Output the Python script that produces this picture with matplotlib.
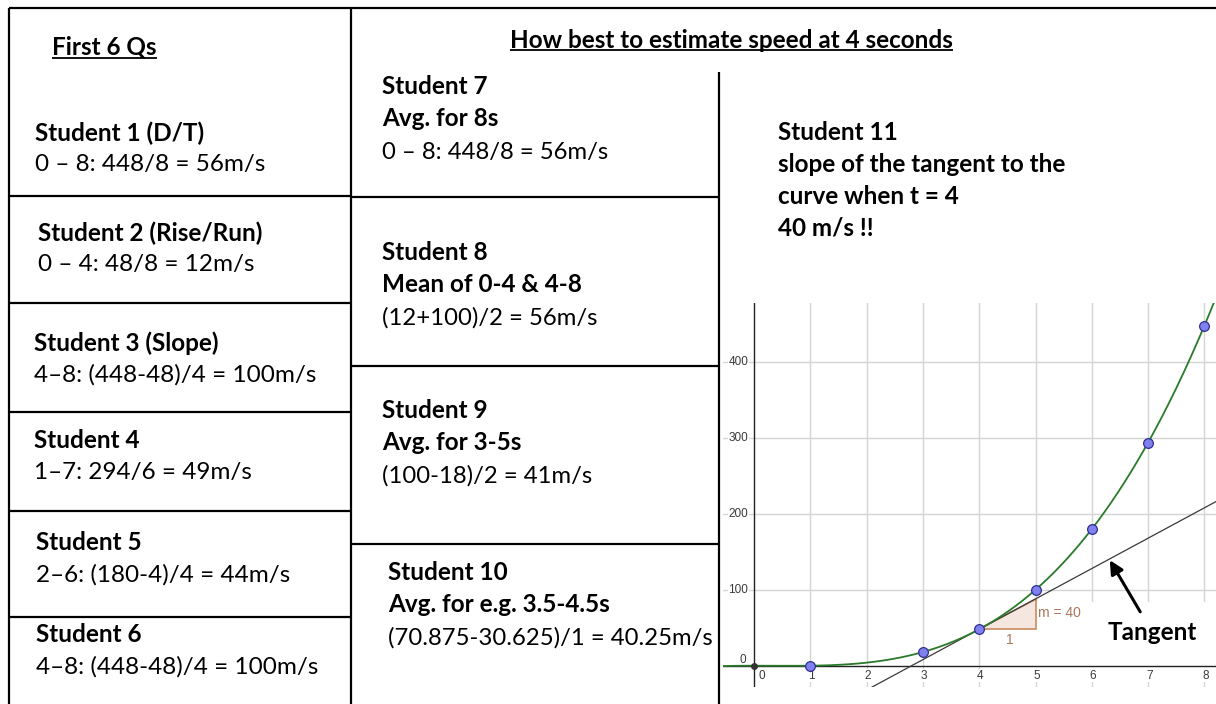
import matplotlib
matplotlib.use("Agg")
import matplotlib.pyplot as plt
import numpy as np
from matplotlib.patches import Polygon, Rectangle

W, H = 1216, 704

# values
times = [1, 3, 4, 5, 6, 7, 8]
distances = [0, 18, 48, 100, 180, 294, 448]
tangent_at = 4
tangent_slope = 40
x_ticks = [1, 2, 3, 4, 5, 6, 7, 8]
y_ticks = [100, 200, 300, 400]

left_title = "First 6 Qs"
mid_title = "How best to estimate speed at 4 seconds"
left_blocks = [
    ("Student 1 (D/T)", "0 \u2013 8: 448/8 = 56m/s"),
    ("Student 2 (Rise/Run)", "0 \u2013 4: 48/8 = 12m/s"),
    ("Student 3 (Slope)", "4\u20138: (448-48)/4 = 100m/s"),
    ("Student 4", "1\u20137: 294/6 = 49m/s"),
    ("Student 5", "2\u20136: (180-4)/4 = 44m/s"),
    ("Student 6", "4\u20138: (448-48)/4 = 100m/s"),
]
mid_blocks = [
    ("Student 7", "Avg. for 8s", "0 \u2013 8: 448/8 = 56m/s"),
    ("Student 8", "Mean of 0-4 & 4-8", "(12+100)/2 = 56m/s"),
    ("Student 9", "Avg. for 3-5s", "(100-18)/2 = 41m/s"),
    ("Student 10", "Avg. for e.g. 3.5-4.5s", "(70.875-30.625)/1 = 40.25m/s"),
]
right_lines = ["Student 11", "slope of the tangent to the", "curve when t = 4", "40 m/s !!"]

DOC_FONT = "Lato"
FS = 17.5

fig = plt.figure(figsize=(W / 100, H / 100), dpi=100)
page = fig.add_axes([0, 0, 1, 1])
page.set_xlim(0, W)
page.set_ylim(H, 0)
page.axis("off")


def put(x, y, s, bold=False, size=FS):
    return page.text(x, y, s, ha="left", va="center", fontsize=size,
                     family=DOC_FONT, fontweight="bold" if bold else "normal",
                     color="black")


def rule(x0, y0, x1, y1, lw=1.6):
    page.plot([x0, x1], [y0, y1], color="black", lw=lw, solid_capstyle="butt")


# table frame
rule(9, 8, W, 8)
rule(9, 8, 9, H)
rule(351, 8, 351, H)
rule(719, 72, 719, H)
for y in [196, 303, 412, 511, 617]:
    rule(9, y, 351, y)
for y in [197, 366, 544]:
    rule(351, y, 719, y)

# titles with underline
for x, y, s, uy in [(52, 47, left_title, 58), (510, 40, mid_title, 50)]:
    t = put(x, y, s, bold=True)
    fig.canvas.draw()
    bb = t.get_window_extent()
    rule(bb.x0 * W / fig.bbox.width, uy, bb.x1 * W / fig.bbox.width, uy, lw=1.3)

left_pos = [(35, 133), (38, 233), (34, 343), (34, 440), (36, 543), (36, 635)]
for (x, y), (head, calc) in zip(left_pos, left_blocks):
    put(x, y, head, bold=True)
    put(x, y + 32, calc)

mid_pos = [(382, 86), (382, 252), (382, 410), (388, 572)]
for (x, y), (head, how, calc) in zip(mid_pos, mid_blocks):
    put(x, y, head, bold=True)
    put(x, y + 33, how, bold=True)
    put(x, y + 66, calc, size=17.2)

for i, s in enumerate(right_lines):
    put(778, 132 + 32 * i, s, bold=True)

# graph (GeoGebra style)
x0px, sx = 754, 56.3
y0px, sy = 665.7, 0.759
gl, gr, gt, gb = 723, W, 303, 687
gax = fig.add_axes([gl / W, (H - gb) / H, (gr - gl) / W, (gb - gt) / H])
gax.set_xlim((gl - x0px) / sx, (gr - x0px) / sx)
gax.set_ylim((y0px - gb) / sy, (y0px - gt) / sy)
gax.set_facecolor("none")
for sp in gax.spines.values():
    sp.set_visible(False)
gax.set_xticks(x_ticks)
gax.set_yticks(y_ticks)
gax.tick_params(length=0, labelbottom=False, labelleft=False)
gax.set_axisbelow(True)
gax.grid(color="#d4d4d4", lw=1.0)

# blank area behind the "Tangent" label
gax.add_patch(Rectangle((4.96, -22), 4, 106, fc="white", ec="none", zorder=0.8))

gax.axhline(0, color="#222222", lw=1.0, zorder=2)
gax.axvline(0, color="#222222", lw=1.0, zorder=2)

lab = dict(fontsize=8.5, family="Liberation Sans", color="#3a3a3a", zorder=2.2,
           bbox=dict(fc="white", ec="none", pad=0.6))
for xt in x_ticks:
    gax.text(xt + 0.02, -13, str(xt), ha="center", va="center", **lab)
gax.text(0.14, -13, "0", ha="center", va="center", **lab)
for yt in y_ticks:
    gax.text(-0.1, yt, str(yt), ha="right", va="center", **lab)
gax.text(-0.2, 8, "0", ha="center", va="center", **lab)

# slope triangle
y_at = distances[times.index(tangent_at)]
tri = Polygon([(tangent_at, y_at), (tangent_at + 1, y_at),
               (tangent_at + 1, y_at + tangent_slope)],
              closed=True, fc="#f5e6df", ec="#c98b5e", lw=1.2, zorder=1.8)
gax.add_patch(tri)
gax.text(tangent_at + 1.05, y_at + tangent_slope / 2 + 1, f"m = {tangent_slope}",
         ha="left", va="center", fontsize=10, family="Liberation Sans", color="#a9775a")
gax.text(tangent_at + 0.55, y_at - 14, "1", ha="center", va="center",
         fontsize=10, family="Liberation Sans", color="#a9775a")

# tangent line and curve through the points
gax.axline((tangent_at, y_at), slope=tangent_slope, color="#3a3a3a", lw=0.9, zorder=2)
coeffs = np.polyfit(times, distances, 3)
tc = np.linspace(-0.6, 8.4, 400)
gax.plot(tc, np.polyval(coeffs, tc), color="#2b7a2b", lw=1.3, zorder=2.5)
gax.plot(times, distances, "o", ms=7, mfc="#8080f0", mec="#2f2f8f", mew=0.9, zorder=3)
gax.plot([0], [0], "o", ms=4, color="#333333", zorder=3)

gax.annotate("", xy=(6.32, 139), xytext=(6.86, 71),
             arrowprops=dict(arrowstyle="-|>", color="black", lw=2.2,
                             mutation_scale=20, shrinkA=0, shrinkB=0), zorder=4)
gax.text(7.07, 44, "Tangent", ha="center", va="center", fontsize=17.5,
         family=DOC_FONT, fontweight="bold", color="black", zorder=4)

fig.savefig("out.png", dpi=100)
